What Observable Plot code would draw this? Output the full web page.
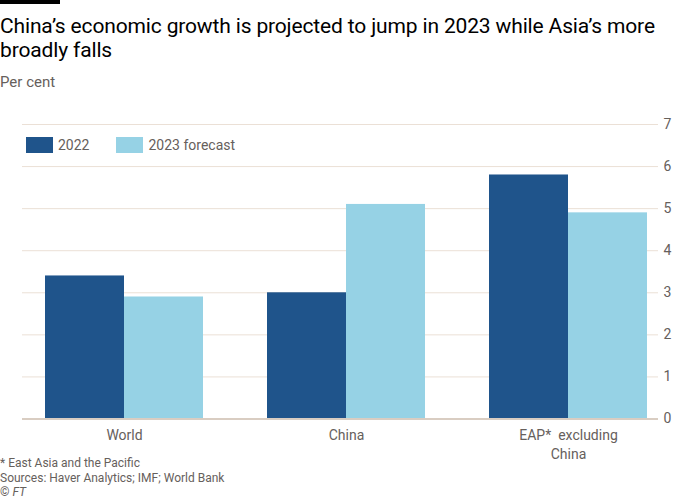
<!DOCTYPE html>
<html>
<head>
<meta charset="utf-8">
<script src="https://cdn.jsdelivr.net/npm/d3@7"></script>
<script src="https://cdn.jsdelivr.net/npm/@observablehq/plot@0.6"></script>
<style>
  html, body { margin: 0; padding: 0; background: #fff; }
  body { width: 700px; height: 500px; position: relative; overflow: hidden; font-family: Roboto, "Open Sans", sans-serif; }
  .bar { position: absolute; left: 0; top: 0; width: 60px; height: 4px; background: #000; }
  .title { position: absolute; left: 0; top: 14px; font-size: 21px; line-height: 24px; color: #000; white-space: nowrap; letter-spacing: -0.15px; }
  .sub { position: absolute; left: 0; top: 73px; font-size: 15px; line-height: 18px; color: #66605c; }
  #chart { position: absolute; left: 0; top: 100px; }
  .legend { position: absolute; top: 137px; left: 26px; display: flex; align-items: center; font-size: 14px; color: #66605c; }
  .legend .sw { width: 27px; height: 16px; display: inline-block; margin-right: 5px; }
  .legend .item { display: flex; align-items: center; margin-right: 27px; }
  .foot { position: absolute; left: 0; font-size: 12px; line-height: 15px; color: #66605c; white-space: nowrap; }
</style>
</head>
<body>
<div class="bar"></div>
<div class="title">China’s economic growth is projected to jump in 2023 while Asia’s more<br>broadly falls</div>
<div class="sub">Per cent</div>
<div id="chart"></div>
<div class="legend" id="legend"></div>
<div class="foot" style="top:456px">* East Asia and the Pacific</div>
<div class="foot" style="top:471px">Sources: Haver Analytics; IMF; World Bank</div>
<div class="foot" style="top:485px">© <i>FT</i></div>
<script>
const categories = ["World", "China", "EAP* excluding China"];
const categoryLabels = ["World", "China", "EAP*  excluding\nChina"];
const series = ["2022", "2023 forecast"];
const values2022 = [3.4, 3.0, 5.8];
const values2023 = [2.9, 5.1, 4.9];
const yTicks = [0, 1, 2, 3, 4, 5, 6, 7];
const colors = ["#1f548b", "#96d2e5"];

const data = [
  ...categories.map((c, i) => ({category: c, series: series[0], value: values2022[i]})),
  ...categories.map((c, i) => ({category: c, series: series[1], value: values2023[i]}))
];

const W = 700, H = 365;
const mL = 22, mR = 42, mT = 24, mB = 46.5;
const xOpts = {type: "band", domain: categories, range: [mL, W - mR], paddingInner: 0.29, paddingOuter: 0.074, align: 0.667};
const bw = Plot.scale({x: xOpts}).bandwidth;

const plot = Plot.plot({
  width: W, height: H,
  marginLeft: mL, marginRight: mR, marginTop: mT, marginBottom: mB,
  style: {fontFamily: "Roboto, 'Open Sans', sans-serif", fontSize: "14px", color: "#66605c", background: "transparent"},
  x: {domain: categories, paddingInner: 0.29, paddingOuter: 0.074, align: 0.667, axis: null},
  y: {domain: [0, 7], ticks: yTicks, axis: null},
  color: {domain: series, range: colors},
  marks: [
    Plot.ruleY(yTicks.filter(d => d > 0), {stroke: "#ebe0d6", strokeWidth: 1}),
    Plot.axisY(yTicks, {anchor: "right", tickSize: 0, tickPadding: 5, label: null, fill: "#66605c", fontSize: 14}),
    Plot.barY(data.filter(d => d.series === series[0]), {x: "category", y: "value", fill: d => d.series, insetRight: bw / 2}),
    Plot.barY(data.filter(d => d.series === series[1]), {x: "category", y: "value", fill: d => d.series, insetLeft: bw / 2}),
    Plot.ruleY([0], {stroke: "#d9cdc2", strokeWidth: 2}),
    Plot.text(categories, {x: d => d, frameAnchor: "bottom", lineAnchor: "top", dy: 7, lineHeight: 1.36,
      text: (d, i) => categoryLabels[i], fill: "#66605c", fontSize: 14})
  ]
});
document.getElementById("chart").appendChild(plot);

const legend = document.getElementById("legend");
series.forEach((s, i) => {
  const item = document.createElement("span");
  item.className = "item";
  const sw = document.createElement("span");
  sw.className = "sw";
  sw.style.background = colors[i];
  item.appendChild(sw);
  item.appendChild(document.createTextNode(s));
  legend.appendChild(item);
});
</script>
</body>
</html>
